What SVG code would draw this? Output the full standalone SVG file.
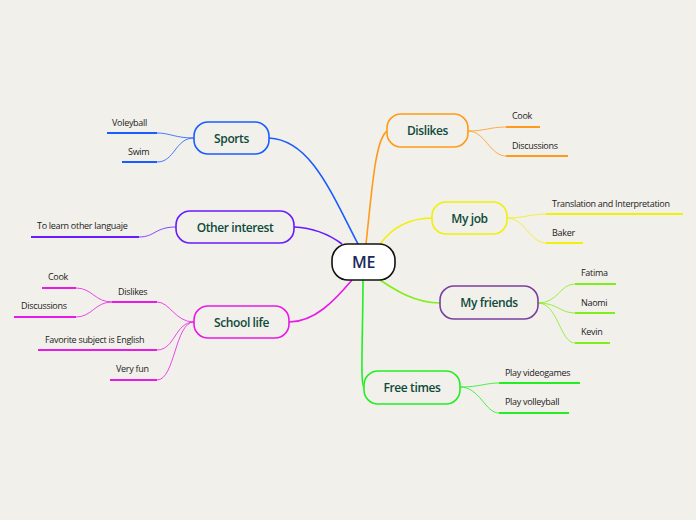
<svg xmlns="http://www.w3.org/2000/svg" width="696" height="520" viewBox="0 0 696 520">
<style>
.n{stroke-width:1.6;fill:none}
.t{font-family:"Open Sans","Noto Sans",sans-serif;font-size:12px;fill:#0c4a3a;text-anchor:middle;font-weight:600;letter-spacing:-0.4px}
.l{font-family:"Open Sans","Noto Sans",sans-serif;font-size:9px;fill:#222;letter-spacing:-0.3px}
.c{fill:none;stroke-width:1.6}
.s{fill:none;stroke-width:0.8}
.u{fill:none;stroke-width:2.2}
</style>
<rect width="696" height="520" fill="#f2f0eb"/>
<g id="connectors">
<path class="c" stroke="#1a5cff" d="M269,138 C310,140 330,190 358,244"/>
<path class="c" stroke="#6a1aff" d="M294,227 C315,228 330,235 342,244"/>
<path class="c" stroke="#e81ae8" d="M289,322 C315,322 335,300 352,280"/>
<path class="c" stroke="#ff9a1a" d="M387,131 C375,140 372,190 366,244"/>
<path class="c" stroke="#f0f00a" d="M432,218 C410,218 392,228 380,244"/>
<path class="c" stroke="#80ee1a" d="M440,303 C415,303 395,290 380,280"/>
<path class="c" stroke="#22ee22" d="M364,387 C360,387 363,330 363,280"/>
<path class="s" stroke="#1a5cff" d="M194,138 C175,138 170,133 157,133 M194,138 C175,138 175,162 157,162"/>
<path class="s" stroke="#6a1aff" d="M176,227 C155,227 155,237 139,237"/>
<path class="s" stroke="#e81ae8" d="M194,322 C175,322 170,302 157,302 M194,322 C175,322 175,350 157,350 M194,322 C175,322 175,380 157,380 M112,302 C95,302 92,288 76,288 M112,302 C95,302 92,317 76,317"/>
<path class="s" stroke="#ff9a1a" d="M468,131 C485,131 490,127 506,127 M468,131 C485,131 490,156 506,156"/>
<path class="s" stroke="#f0f00a" d="M507,218 C525,218 530,214 546,214 M507,218 C525,218 530,243 546,243"/>
<path class="s" stroke="#80ee1a" d="M538,303 C558,303 560,284 575,284 M538,303 C558,303 560,313 575,313 M538,303 C558,303 560,343 575,343"/>
<path class="s" stroke="#22ee22" d="M460,387 C480,387 485,383 499,383 M460,387 C480,387 485,413 499,413"/>
<path class="u" stroke="#1a5cff" d="M107,133H157M122,162H157"/>
<path class="u" stroke="#6a1aff" d="M31,237H139"/>
<path class="u" stroke="#e81ae8" d="M112,302H157M42,288H76M14,317H76M38,350H157M110,380H157"/>
<path class="u" stroke="#ff9a1a" d="M506,127H540M506,156H568"/>
<path class="u" stroke="#f0f00a" d="M546,214H683M546,243H583"/>
<path class="u" stroke="#80ee1a" d="M575,284H616M575,313H615M575,343H610"/>
<path class="u" stroke="#22ee22" d="M499,383H580M499,413H569"/>
</g>
<g id="me"><rect x="332" y="244" width="63" height="36" rx="16" fill="#fff" stroke="#111" stroke-width="1.6"/><text x="363.5" y="268" class="t" style="font-size:16px;fill:#1a2a5a">ME</text></g>
<g id="sports"><rect class="n" x="194" y="122" width="75" height="32" rx="14" stroke="#1a5cff"/><text class="t" x="231.5" y="143">Sports</text></g>
<g id="other"><rect class="n" x="176" y="211" width="118" height="32" rx="14" stroke="#6a1aff"/><text class="t" x="235" y="232">Other interest</text></g>
<g id="school"><rect class="n" x="194" y="306" width="95" height="32" rx="14" stroke="#e81ae8"/><text class="t" x="241.5" y="327">School life</text></g>
<g id="dislikes"><rect class="n" x="387" y="114" width="81" height="33" rx="14" stroke="#ff9a1a"/><text class="t" x="427.5" y="135">Dislikes</text></g>
<g id="myjob"><rect class="n" x="432" y="202" width="75" height="32" rx="14" stroke="#f0f00a"/><text class="t" x="469.5" y="223">My job</text></g>
<g id="friends"><rect class="n" x="440" y="286" width="98" height="33" rx="14" stroke="#7b3f9e"/><text class="t" x="489" y="307">My friends</text></g>
<g id="free"><rect class="n" x="364" y="371" width="96" height="33" rx="14" stroke="#22ee22"/><text class="t" x="412" y="392">Free times</text></g>
<g id="leaves">
<text class="l" x="112" y="126">Voleyball</text>
<text class="l" x="128" y="155">Swim</text>
<text class="l" x="37" y="229">To learn other languaje</text>
<text class="l" x="48" y="280">Cook</text>
<text class="l" x="21" y="309">Discussions</text>
<text class="l" x="118" y="295">Dislikes</text>
<text class="l" x="45" y="343">Favorite subject is English</text>
<text class="l" x="116" y="372">Very fun</text>
<text class="l" x="512" y="119">Cook</text>
<text class="l" x="512" y="149">Discussions</text>
<text class="l" x="552" y="207">Translation and Interpretation</text>
<text class="l" x="552" y="236">Baker</text>
<text class="l" x="581" y="276">Fatima</text>
<text class="l" x="581" y="306">Naomi</text>
<text class="l" x="581" y="335">Kevin</text>
<text class="l" x="505" y="376">Play videogames</text>
<text class="l" x="505" y="405">Play volleyball</text>
</g>
</svg>
